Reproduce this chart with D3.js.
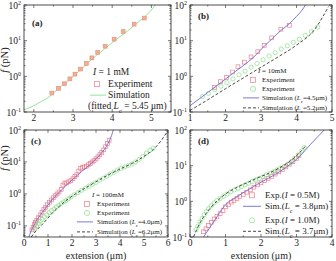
<!DOCTYPE html>
<html>
<head>
<meta charset="utf-8">
<script src="https://cdn.jsdelivr.net/npm/d3@7"></script>
<style>
  body { margin: 0; background: #fff; }
  svg, svg text { font-family: "Liberation Serif", "DejaVu Serif", serif; }
</style>
</head>
<body>
<div id="chart"></div>
<script>
// ---- data (extension in um, force in pN) ----
// (a) I = 1 mM
const expA = [[2.46,0.34],[2.63,0.46],[2.78,0.62],[2.92,0.85],[3.05,1.15],[3.19,1.6],[3.34,2.3],[3.48,3.3],[3.63,4.7],[3.82,7.0],[4.05,11],[4.28,18],[4.56,29],[4.82,43]];
const simA = [[1.75,0.115],[2.0,0.15],[2.2,0.2],[2.4,0.27],[2.6,0.43],[2.8,0.64],[3.0,0.98],[3.2,1.55],[3.4,2.5],[3.6,3.9],[3.8,5.8],[4.0,8.8],[4.2,13],[4.4,19],[4.6,29],[4.8,44],[4.95,63],[5.1,100]];
// (b) I = 10 mM
const expB1 = [[1.69,0.49],[1.86,0.71],[2.03,0.93],[2.2,1.32],[2.35,1.86],[2.53,2.5],[2.72,3.5],[2.91,4.9],[3.09,7.4],[3.3,12],[3.56,21],[3.8,27]];
const expB2 = [[1.35,0.27],[1.52,0.33],[1.7,0.42],[1.87,0.53],[2.04,0.66],[2.21,0.85],[2.38,1.1],[2.55,1.4],[2.72,1.8],[2.89,2.3],[3.06,2.9],[3.23,3.7],[3.4,4.6],[3.57,5.8],[3.74,7.2],[3.91,9],[4.08,11],[4.25,14],[4.42,18],[4.6,24]];
const simB1 = [[1.0,0.15],[1.3,0.25],[1.6,0.42],[1.9,0.7],[2.2,1.2],[2.5,2.0],[2.8,3.5],[3.1,7.2],[3.3,11],[3.55,19],[3.8,30],[4.0,48],[4.15,70],[4.25,100]];
const simB2 = [[1.0,0.11],[1.5,0.22],[2.0,0.45],[2.5,0.9],[3.0,1.8],[3.5,3.6],[4.0,7.5],[4.5,20],[4.9,90]];
// (c) I = 100 mM
const expC1 = [[0.33,0.075],[0.38,0.09],[0.43,0.11],[0.48,0.13],[0.53,0.15],[0.6,0.18],[0.67,0.22],[0.75,0.27],[0.83,0.33],[0.9,0.38],[0.98,0.46],[1.06,0.55],[1.14,0.65],[1.22,0.76],[1.3,0.88],[1.38,1.0],[1.46,1.15],[1.55,1.4],[1.62,1.9],[1.7,2.2],[1.78,2.2],[1.86,2.4],[1.95,2.6],[2.04,3.0],[2.12,3.5],[2.2,4.0],[2.28,5.2],[2.36,6.3],[2.44,6.8],[2.52,7.0],[2.6,7.4],[2.68,8.2],[2.76,9.0],[2.84,10],[2.92,11],[3.0,12.5],[3.08,14.5],[3.16,17],[3.24,20],[3.32,24],[3.4,30],[3.48,38],[3.55,48]];
const expC2 = [[0.45,0.08],[0.52,0.1],[0.6,0.12],[0.68,0.14],[0.76,0.16],[0.85,0.19],[0.95,0.22],[1.05,0.26],[1.15,0.3],[1.25,0.34],[1.35,0.39],[1.45,0.44],[1.55,0.5],[1.65,0.56],[1.75,0.62],[1.85,0.7],[1.95,0.8],[2.1,0.95],[2.25,1.1],[2.4,1.3],[2.55,1.5],[2.7,1.75],[2.85,2.0],[3.0,2.3],[3.15,2.7],[3.3,3.1],[3.45,3.6],[3.6,4.2],[3.75,4.8],[3.9,5.6],[4.05,6.3],[4.2,7.0],[4.35,7.8],[4.5,8.6],[4.65,10],[4.8,12],[4.95,15],[5.1,19],[5.25,23],[5.38,27]];
const simC1 = [[0.2,0.045],[0.3,0.07],[0.4,0.1],[0.5,0.14],[0.6,0.18],[0.8,0.29],[1.0,0.45],[1.2,0.7],[1.4,1.0],[1.6,1.4],[1.8,2.0],[2.0,2.7],[2.2,3.7],[2.4,5.0],[2.6,6.6],[2.8,9],[3.0,12.5],[3.2,18],[3.4,28],[3.55,45],[3.65,68],[3.72,100]];
const simC2 = [[0.3,0.045],[0.5,0.07],[0.8,0.12],[1.2,0.26],[1.6,0.5],[2.0,0.85],[2.5,1.45],[3.0,2.4],[3.5,3.9],[4.0,6.0],[4.5,9.0],[5.0,15],[5.4,25],[5.7,45],[5.95,85]];
// (d) I = 0.5 M and 1.0 M
const expD1 = [[0.38,0.14],[0.45,0.17],[0.52,0.21],[0.6,0.26],[0.68,0.32],[0.76,0.38],[0.85,0.45],[0.93,0.55],[1.0,0.7],[1.08,0.8],[1.16,0.95],[1.24,1.05],[1.32,1.2],[1.4,1.35],[1.5,1.55],[1.6,1.8],[1.7,2.1],[1.8,2.5],[1.9,2.9],[2.0,3.3],[2.1,3.8],[2.2,4.4],[2.3,5.0],[2.4,5.8],[2.5,6.7],[2.6,7.8],[2.7,9.2],[2.8,11],[2.9,13],[3.0,16],[3.07,19]];
const expD2 = [[0.17,0.16],[0.22,0.2],[0.28,0.26],[0.34,0.33],[0.4,0.42],[0.46,0.52],[0.52,0.62],[0.6,0.75],[0.68,0.9],[0.76,1.05],[0.85,1.2],[0.95,1.4],[1.05,1.6],[1.15,1.85],[1.25,2.1],[1.35,2.3],[1.45,2.6],[1.55,2.9],[1.65,3.2],[1.75,3.6],[1.85,4.0],[1.95,4.4],[2.05,4.9],[2.15,5.5],[2.25,6.1],[2.35,6.8],[2.45,7.6],[2.55,8.5],[2.65,9.5],[2.75,11],[2.85,13],[2.95,16],[3.05,20],[3.15,26],[3.22,32]];
const simD1 = [[0.38,0.1],[0.5,0.15],[0.7,0.3],[1.0,0.8],[1.3,1.3],[1.6,2.0],[1.9,3.0],[2.2,4.4],[2.5,6.5],[2.8,10.5],[3.0,15],[3.2,24],[3.4,40],[3.6,65],[3.78,100]];
const simD2 = [[0.1,0.1],[0.2,0.17],[0.3,0.27],[0.45,0.45],[0.6,0.7],[0.8,1.1],[1.0,1.6],[1.3,2.4],[1.6,3.3],[1.9,4.5],[2.2,6.0],[2.5,8.5],[2.8,13],[3.0,19],[3.15,27],[3.28,38]];

const PINK = '#ee7f8c', GREEN = '#86e086', BLUE = '#6a6ad8', DARK = '#333';
const FONT = '"Liberation Serif", "DejaVu Serif", serif';

const svg = d3.select('#chart').append('svg')
  .attr('width', 336).attr('height', 261)
  .attr('font-family', FONT);

// text with italic / subscript parts
function rich(sel, parts) {
  parts.forEach(p => {
    const ts = sel.append('tspan').text(p.t);
    if (p.i) ts.attr('font-style', 'italic');
    if (p.sub) ts.attr('baseline-shift', 'sub').attr('font-size', '70%');
  });
  return sel;
}

function drawPanel(p) {
  const x = d3.scaleLinear().domain(p.xDom).range([p.left, p.right]);
  const y = d3.scaleLog().domain(p.yDom).range([p.bottom, p.top]);
  const g = svg.append('g');

  // ticks on all four sides, pointing in
  const xMaj = d3.range(Math.ceil(p.xDom[0]), Math.floor(p.xDom[1]) + 1);
  const xMin = d3.range(Math.ceil(p.xDom[0] * 2) / 2, p.xDom[1] + 1e-9, 0.5).filter(v => !xMaj.includes(v));
  const yMaj = [0.1, 1, 10, 100];
  const yMin = [];
  [0.01, 0.1, 1, 10].forEach(d => d3.range(2, 10).forEach(k => {
    const v = d * k;
    if (v >= p.yDom[0] && v <= p.yDom[1]) yMin.push(v);
  }));
  const tk = g.append('g').attr('stroke', '#222').attr('stroke-width', 0.6);
  [[xMaj, 3], [xMin, 1.6]].forEach(([vals, len]) => vals.forEach(v => {
    tk.append('line').attr('x1', x(v)).attr('x2', x(v)).attr('y1', p.bottom).attr('y2', p.bottom - len);
    tk.append('line').attr('x1', x(v)).attr('x2', x(v)).attr('y1', p.top).attr('y2', p.top + len);
  }));
  [[yMaj, 3], [yMin, 1.6]].forEach(([vals, len]) => vals.forEach(v => {
    tk.append('line').attr('y1', y(v)).attr('y2', y(v)).attr('x1', p.left).attr('x2', p.left + len);
    tk.append('line').attr('y1', y(v)).attr('y2', y(v)).attr('x1', p.right).attr('x2', p.right - len);
  }));

  // tick labels
  xMaj.forEach(v => {
    g.append('text').attr('x', x(v)).attr('y', p.bottom + 9)
      .attr('text-anchor', 'middle').attr('font-size', 9.5).attr('fill', '#222').text(v);
  });
  yMaj.forEach(v => {
    const t = g.append('text').attr('x', p.left - 3).attr('y', y(v) + 3.5)
      .attr('text-anchor', 'end').attr('font-size', 9.5).attr('fill', '#222').text('10');
    t.append('tspan').attr('font-size', 6).attr('dy', -4).text(Math.round(Math.log10(v)));
  });

  // curves and markers, clipped to the frame
  const line = d3.line().x(d => x(d[0])).y(d => y(d[1])).curve(d3.curveMonotoneX);
  const clip = 'clip-' + p.name;
  svg.append('clipPath').attr('id', clip).append('rect')
    .attr('x', p.left).attr('y', p.top).attr('width', p.right - p.left).attr('height', p.bottom - p.top);
  const plot = g.append('g').attr('clip-path', `url(#${clip})`);

  p.series.forEach(s => {
    if (s.type === 'line') {
      plot.append('path').datum(s.data).attr('d', line).attr('fill', 'none')
        .attr('stroke', s.color).attr('stroke-width', 0.9)
        .attr('stroke-dasharray', s.dash || null);
    } else if (s.type === 'square') {
      plot.selectAll(null).data(s.data).join('rect')
        .attr('x', d => x(d[0]) - 1.9).attr('y', d => y(d[1]) - 1.9)
        .attr('width', 3.8).attr('height', 3.8)
        .attr('fill', s.fill || 'none').attr('stroke', s.color).attr('stroke-width', 0.7);
    } else {
      plot.selectAll(null).data(s.data).join('circle')
        .attr('cx', d => x(d[0])).attr('cy', d => y(d[1])).attr('r', 2.1)
        .attr('fill', 'none').attr('stroke', s.color).attr('stroke-width', 0.7);
    }
  });

  // frame
  g.append('rect').attr('x', p.left).attr('y', p.top)
    .attr('width', p.right - p.left).attr('height', p.bottom - p.top)
    .attr('fill', 'none').attr('stroke', '#222').attr('stroke-width', 0.8);

  // panel tag
  g.append('text').attr('x', p.tag[0]).attr('y', p.tag[1])
    .attr('font-size', 9).attr('font-weight', 'bold').attr('fill', '#222').text(`(${p.name})`);

  // legend
  const fs = p.legendSize;
  const lg = g.append('g').attr('font-size', fs).attr('fill', '#222');
  p.legend.forEach(e => {
    const my = e.y - fs * 0.3;
    if (e.sym === 'square') {
      lg.append('rect').attr('x', e.sx - 2.5).attr('y', my - 2.5).attr('width', 5).attr('height', 5)
        .attr('fill', 'none').attr('stroke', e.color).attr('stroke-width', 0.7);
    } else if (e.sym === 'circle') {
      lg.append('circle').attr('cx', e.sx).attr('cy', my).attr('r', 2.6)
        .attr('fill', 'none').attr('stroke', e.color).attr('stroke-width', 0.7);
    } else if (e.sym === 'line') {
      lg.append('line').attr('x1', e.sx - e.len / 2).attr('x2', e.sx + e.len / 2)
        .attr('y1', my).attr('y2', my)
        .attr('stroke', e.color).attr('stroke-width', 0.9).attr('stroke-dasharray', e.dash || null);
    }
    rich(lg.append('text').attr('x', e.tx).attr('y', e.y), e.text);
  });
}

drawPanel({
  name: 'a', left: 24, right: 171, top: 5, bottom: 112, xDom: [1.75, 5.5], yDom: [0.1, 100],
  tag: [32, 26], legendSize: 9.5,
  series: [
    { type: 'line', data: simA, color: GREEN },
    { type: 'square', data: expA, color: '#e89088', fill: '#eeb38c' }
  ],
  legend: [
    { text: [{ t: 'I', i: true }, { t: ' = 1 mM' }], tx: 93, y: 75 },
    { sym: 'square', color: PINK, sx: 97, text: [{ t: 'Experiment' }], tx: 108, y: 87 },
    { sym: 'line', color: GREEN, sx: 98, len: 16, text: [{ t: 'Simulation' }], tx: 108, y: 98 },
    { text: [{ t: '(fitted ' }, { t: 'L', i: true }, { t: 'c', sub: true }, { t: ' = 5.45 μm)' }], tx: 88, y: 109 }
  ]
});

drawPanel({
  name: 'b', left: 190, right: 332, top: 5, bottom: 112, xDom: [1, 5], yDom: [0.1, 100],
  tag: [198, 19], legendSize: 7,
  series: [
    { type: 'square', data: expB1, color: PINK },
    { type: 'circle', data: expB2, color: GREEN },
    { type: 'line', data: simB1, color: BLUE },
    { type: 'line', data: simB2, color: DARK, dash: '3,2' }
  ],
  legend: [
    { text: [{ t: 'I', i: true }, { t: ' = 10mM' }], tx: 258, y: 73 },
    { sym: 'square', color: PINK, sx: 253, text: [{ t: 'Experiment' }], tx: 262, y: 82 },
    { sym: 'circle', color: GREEN, sx: 253, text: [{ t: 'Experiment' }], tx: 262, y: 91 },
    { sym: 'line', color: BLUE, sx: 251, len: 16, text: [{ t: 'Simulation (' }, { t: 'L', i: true }, { t: 'c', sub: true }, { t: '=4.5μm)' }], tx: 262, y: 100 },
    { sym: 'line', color: DARK, dash: '3,2', sx: 251, len: 16, text: [{ t: 'Simulation (' }, { t: 'L', i: true }, { t: 'c', sub: true }, { t: '=5.2μm)' }], tx: 262, y: 110 }
  ]
});

drawPanel({
  name: 'c', left: 24, right: 168, top: 130, bottom: 237, xDom: [0, 6], yDom: [0.045, 100],
  tag: [31, 144], legendSize: 7,
  series: [
    { type: 'square', data: expC1, color: PINK },
    { type: 'circle', data: expC2, color: GREEN },
    { type: 'line', data: simC1, color: BLUE },
    { type: 'line', data: simC2, color: DARK, dash: '3,2' }
  ],
  legend: [
    { text: [{ t: 'I', i: true }, { t: ' = 100mM' }], tx: 92, y: 197 },
    { sym: 'square', color: PINK, sx: 87, text: [{ t: 'Experiment' }], tx: 97, y: 206 },
    { sym: 'circle', color: GREEN, sx: 87, text: [{ t: 'Experiment' }], tx: 97, y: 215 },
    { sym: 'line', color: BLUE, sx: 85, len: 16, text: [{ t: 'Simulation (' }, { t: 'L', i: true }, { t: 'c', sub: true }, { t: '=4.0μm)' }], tx: 97, y: 224 },
    { sym: 'line', color: DARK, dash: '3,2', sx: 85, len: 16, text: [{ t: 'Simulation (' }, { t: 'L', i: true }, { t: 'c', sub: true }, { t: '=6.2μm)' }], tx: 97, y: 234 }
  ]
});

drawPanel({
  name: 'd', left: 190, right: 332, top: 130, bottom: 237, xDom: [0, 4], yDom: [0.1, 100],
  tag: [198, 144], legendSize: 9,
  series: [
    { type: 'square', data: expD1, color: PINK },
    { type: 'circle', data: expD2, color: GREEN },
    { type: 'line', data: simD1, color: BLUE },
    { type: 'line', data: simD2, color: DARK, dash: '3,2' }
  ],
  legend: [
    { sym: 'square', color: PINK, sx: 252, text: [{ t: 'Exp.(' }, { t: 'I', i: true }, { t: ' = 0.5M)' }], tx: 265, y: 198 },
    { sym: 'line', color: BLUE, sx: 252, len: 18, text: [{ t: 'Sim.(' }, { t: 'L', i: true }, { t: 'c', sub: true }, { t: ' = 3.8μm)' }], tx: 265, y: 209 },
    { sym: 'circle', color: GREEN, sx: 252, text: [{ t: 'Exp.(' }, { t: 'I', i: true }, { t: ' = 1.0M)' }], tx: 265, y: 223 },
    { sym: 'line', color: DARK, dash: '3,2', sx: 252, len: 18, text: [{ t: 'Sim.(' }, { t: 'L', i: true }, { t: 'c', sub: true }, { t: ' = 3.7μm)' }], tx: 265, y: 234 }
  ]
});

// axis titles
[60, 158].forEach(cy => {
  rich(svg.append('text').attr('transform', `translate(8,${cy}) rotate(-90)`)
    .attr('text-anchor', 'middle').attr('font-size', 10.5).attr('fill', '#222'),
    [{ t: 'f', i: true }, { t: ' (pN)' }]);
});
[96, 261].forEach(cx => {
  svg.append('text').attr('x', cx).attr('y', 258.5).attr('text-anchor', 'middle')
    .attr('font-size', 10).attr('fill', '#222').text('extension (μm)');
});
</script>
</body>
</html>
